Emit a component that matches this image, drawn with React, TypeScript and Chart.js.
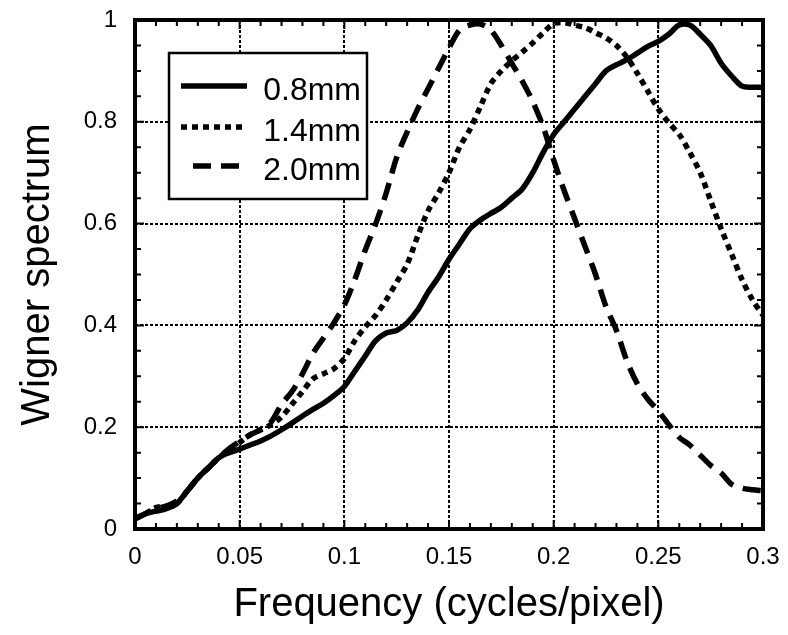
import React, { useEffect, useRef } from "react";
import { Chart, registerables } from "chart.js";

Chart.register(...registerables);

const freq = [
  0, 0.005, 0.01, 0.015, 0.02, 0.025, 0.03, 0.035, 0.04, 0.045,
  0.05, 0.055, 0.06, 0.065, 0.07, 0.075, 0.08, 0.085, 0.09, 0.095,
  0.1, 0.105, 0.11, 0.115, 0.12, 0.125, 0.13, 0.135, 0.14, 0.145,
  0.15, 0.155, 0.16, 0.165, 0.17, 0.175, 0.18, 0.185, 0.19, 0.195,
  0.2, 0.205, 0.21, 0.215, 0.22, 0.225, 0.23, 0.235, 0.24, 0.245,
  0.25, 0.255, 0.26, 0.265, 0.27, 0.275, 0.28, 0.285, 0.29, 0.295, 0.3,
];

const series08mm = [
  0.02, 0.03, 0.035, 0.04, 0.05, 0.075, 0.1, 0.12, 0.14, 0.15,
  0.157, 0.165, 0.173, 0.183, 0.195, 0.208, 0.222, 0.235, 0.247, 0.262,
  0.28, 0.31, 0.34, 0.37, 0.385, 0.39, 0.405, 0.43, 0.465, 0.495,
  0.53, 0.56, 0.59, 0.607, 0.62, 0.632, 0.65, 0.668, 0.7, 0.74,
  0.775, 0.8, 0.825, 0.85, 0.875, 0.9, 0.912, 0.922, 0.935, 0.948,
  0.958, 0.972, 0.99, 0.99, 0.972, 0.95, 0.915, 0.89, 0.87, 0.868, 0.868,
];

const series14mm = [
  0.02, 0.03, 0.042, 0.045, 0.05, 0.075, 0.1, 0.12, 0.14, 0.155,
  0.17, 0.185, 0.195, 0.205, 0.22, 0.245, 0.27, 0.295, 0.305, 0.315,
  0.335, 0.37, 0.397, 0.42, 0.45, 0.485, 0.52, 0.575, 0.625, 0.66,
  0.7, 0.75, 0.785, 0.83, 0.875, 0.9, 0.92, 0.937, 0.955, 0.975,
  0.993, 0.995, 0.99, 0.985, 0.975, 0.965, 0.95, 0.927, 0.895, 0.86,
  0.825, 0.798, 0.775, 0.74, 0.7, 0.645, 0.59, 0.54, 0.49, 0.45, 0.42,
];

const series20mm = [
  0.02, 0.03, 0.04, 0.045, 0.055, 0.075, 0.1, 0.12, 0.14, 0.158,
  0.172, 0.185, 0.195, 0.21, 0.245, 0.27, 0.305, 0.345, 0.375, 0.405,
  0.44, 0.49, 0.548, 0.6, 0.66, 0.73, 0.78, 0.825, 0.865, 0.905,
  0.945, 0.98, 0.99, 0.992, 0.98, 0.95, 0.915, 0.88, 0.84, 0.79,
  0.725, 0.665, 0.61, 0.555, 0.5, 0.437, 0.39, 0.33, 0.285, 0.255,
  0.232, 0.205, 0.18, 0.165, 0.145, 0.125, 0.11, 0.088, 0.08, 0.077, 0.075,
];

const seriesLabels = ["0.8mm", "1.4mm", "2.0mm"];
const xTickValues = [0, 0.05, 0.1, 0.15, 0.2, 0.25, 0.3];
const xTickLabels = ["0", "0.05", "0.1", "0.15", "0.2", "0.25", "0.3"];
const yTickValues = [0, 0.2, 0.4, 0.6, 0.8, 1];
const yTickLabels = ["0", "0.2", "0.4", "0.6", "0.8", "1"];
const xTitle = "Frequency (cycles/pixel)";
const yTitle = "Wigner spectrum";

const FONT = '"Liberation Sans", Arial, Helvetica, sans-serif';

const dashes = [[], [6, 5], [18, 10]];

const framePlugin = {
  id: "frame",
  afterDatasetsDraw(chart: any) {
    const { ctx, chartArea } = chart;
    const { left, right, top, bottom } = chartArea;
    const xs = chart.scales.x;
    const ys = chart.scales.y;
    ctx.save();
    ctx.strokeStyle = "#000";
    ctx.setLineDash([]);
    ctx.lineWidth = 2;
    ctx.beginPath();
    for (let i = 1; i < 30; i++) {
      const v = i / 100;
      const px = xs.getPixelForValue(v);
      const len = i % 5 === 0 ? 9 : 6;
      ctx.moveTo(px, bottom);
      ctx.lineTo(px, bottom - len);
      ctx.moveTo(px, top);
      ctx.lineTo(px, top + len);
    }
    for (let i = 1; i < 20; i++) {
      const v = i / 20;
      const py = ys.getPixelForValue(v);
      const len = i % 4 === 0 ? 9 : 6;
      ctx.moveTo(left, py);
      ctx.lineTo(left + len, py);
      ctx.moveTo(right, py);
      ctx.lineTo(right - len, py);
    }
    ctx.stroke();
    ctx.lineWidth = 4;
    ctx.strokeRect(left, top, right - left, bottom - top);

    // legend
    const bx = 169, by = 53, bw = 198, bh = 146;
    ctx.fillStyle = "#fff";
    ctx.fillRect(bx, by, bw, bh);
    ctx.lineWidth = 2.5;
    ctx.strokeRect(bx, by, bw, bh);
    const rows = [91, 132, 171];
    const starts = [181, 181, 193];
    ctx.font = `32px ${FONT}`;
    ctx.textAlign = "right";
    ctx.textBaseline = "middle";
    chart.data.datasets.forEach((ds: any, i: number) => {
      ctx.lineWidth = 5.5;
      ctx.setLineDash(ds.borderDash || []);
      ctx.beginPath();
      ctx.moveTo(starts[i], rows[i] - 5);
      ctx.lineTo(247, rows[i] - 5);
      ctx.stroke();
      ctx.setLineDash([]);
      ctx.fillStyle = "#000";
      ctx.fillText(ds.label, 361, rows[i]);
    });
    ctx.restore();
  },
};

export default function App() {
  const ref = useRef<HTMLCanvasElement>(null);
  useEffect(() => {
    if (!ref.current) return;
    const mk = (vals: number[]) => freq.map((f, i) => ({ x: f, y: vals[i] }));
    const all = [series08mm, series14mm, series20mm];
    const chart = new Chart(ref.current, {
      type: "line",
      data: {
        datasets: all.map((vals, i) => ({
          label: seriesLabels[i],
          data: mk(vals),
          borderColor: "#000",
          borderWidth: 5.5,
          borderDash: dashes[i],
          pointRadius: 0,
          tension: 0.3,
          fill: false,
        })),
      },
      options: {
        animation: false,
        responsive: false,
        devicePixelRatio: 1,
        layout: { padding: { left: 0, top: 20, right: 25, bottom: 0 } },
        plugins: { legend: { display: false }, tooltip: { enabled: false } },
        scales: {
          x: {
            type: "linear",
            min: 0,
            max: 0.3,
            afterFit: (s: any) => { s.height = 106; s.paddingLeft = 0; s.paddingRight = 0; },
            afterBuildTicks: (s: any) => { s.ticks = xTickValues.map((v) => ({ value: v })); },
            ticks: {
              color: "#000",
              font: { family: FONT, size: 24 },
              padding: 14,
              maxRotation: 0,
              callback: (v: any) => { const i = xTickValues.indexOf(Number(v)); return i >= 0 ? xTickLabels[i] : ""; },
            },
            grid: { color: "#000", lineWidth: 2, drawTicks: false },
            border: { display: false, dash: [3, 2] },
            title: { display: true, text: xTitle, color: "#000", font: { family: FONT, size: 40 }, padding: { top: 0, bottom: 6 } },
          },
          y: {
            type: "linear",
            min: 0,
            max: 1,
            afterFit: (s: any) => { s.width = 135; s.paddingTop = 0; s.paddingBottom = 0; },
            afterBuildTicks: (s: any) => { s.ticks = yTickValues.map((v) => ({ value: v })); },
            ticks: {
              color: "#000",
              font: { family: FONT, size: 24 },
              padding: 18,
              callback: (v: any) => { const i = yTickValues.indexOf(Number(v)); return i >= 0 ? yTickLabels[i] : ""; },
            },
            grid: { color: "#000", lineWidth: 2, drawTicks: false },
            border: { display: false, dash: [3, 2] },
            title: { display: true, text: yTitle, color: "#000", font: { family: FONT, size: 40 }, padding: { top: 14, bottom: 0 } },
          },
        },
      },
      plugins: [framePlugin],
    } as any);
    return () => chart.destroy();
  }, []);
  return (
    <div style={{ position: "absolute", left: 0, top: 0, width: 788, height: 635, background: "#fff" }}>
      <canvas ref={ref} width={788} height={635} />
    </div>
  );
}
